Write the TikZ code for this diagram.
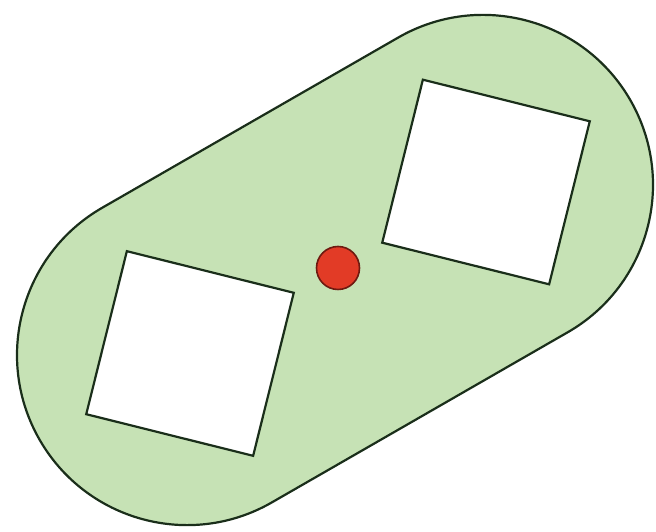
\documentclass[tikz,border=0pt]{standalone}
\usetikzlibrary{calc}
\definecolor{outline}{HTML}{1a2e1a}
\definecolor{leafFill}{HTML}{c6e2b5}
\definecolor{dotFill}{HTML}{e23b26}
\definecolor{dotEdge}{HTML}{6e1a10}
\def\capR{170}
\def\capHalf{170.7}
\def\capAng{29.9}
\def\holeW{172}
\def\holeH{168}
\def\holeTilt{-14}
\def\dotR{21.5}

\begin{document}
\begin{tikzpicture}[
    x=1pt, y=1pt,
    capsule/.style={draw=outline, line width=2.2pt, fill=leafFill},
    hole/.style={draw=outline, line width=2.2pt, fill=white},
    pin/.style={draw=dotEdge, line width=1.6pt, fill=dotFill},
    ]
\useasboundingbox (0,0) rectangle (656,532);

% ====================================================================
% Capsule outline (two half circles joined by straight sides)
% ====================================================================
\coordinate (mid) at (335,262);
\begin{scope}[shift={(mid)}, rotate=\capAng]
  \draw[capsule] (-\capHalf,-\capR) -- (\capHalf,-\capR)
    arc (-90:90:\capR) -- (-\capHalf,\capR)
    arc (90:270:\capR) -- cycle;
\end{scope}

% Two square holes, one in each rounded end
\foreach \cx/\cy in {190/178.5, 486/350}{
  \begin{scope}[shift={(\cx,\cy)}, rotate=\holeTilt]
    \draw[hole] (-\holeW/2,-\holeH/2) -- (\holeW/2,-\holeH/2)
      -- (\holeW/2,\holeH/2) -- (-\holeW/2,\holeH/2) -- cycle;
  \end{scope}
}

% Red pin at the centre
\coordinate (pinc) at (338,264);
\filldraw[pin] (pinc) circle (\dotR);

\end{tikzpicture}
\end{document}
